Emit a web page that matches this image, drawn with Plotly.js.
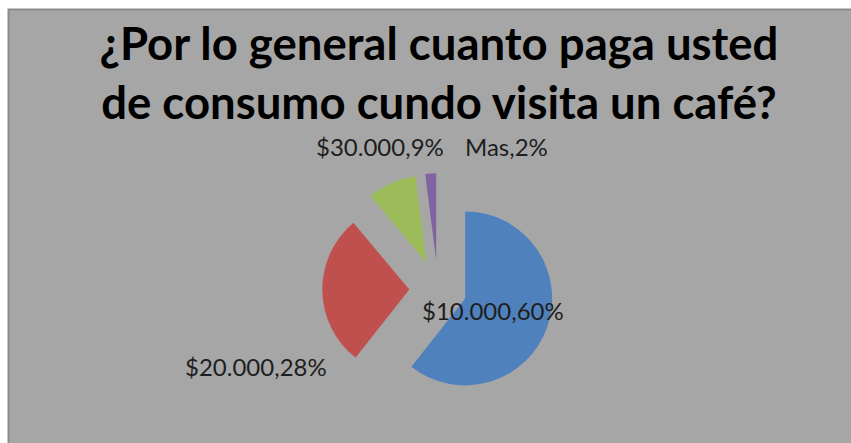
<!DOCTYPE html>
<html>
<head>
<meta charset="utf-8">
<script src="https://cdn.plot.ly/plotly-3.0.1.min.js"></script>
<style>
  html, body { margin: 0; padding: 0; background: #ffffff; }
  #chart { width: 851px; height: 443px; }
</style>
</head>
<body>
<div id="chart"></div>
<script>
// Data
const categories = ["$10.000", "$20.000", "$30.000", "Mas"];
const percents = [60, 28, 9, 2];
const colors = ["#4f81bd", "#c0504d", "#9bbb59", "#8064a2"];
const titleLines = ["¿Por lo general cuanto paga usted", "de consumo cundo visita un café?"];

const W = 851, H = 443;
const px = (x) => x / W;
const py = (y) => 1 - y / H;

// label placement (pixel centres in the figure)
const labelPos = [[493, 310], [256, 366], [380, 147], [506, 147]];

const trace = {
  type: "pie",
  labels: categories,
  values: percents,
  sort: false,
  direction: "clockwise",
  rotation: 0,
  pull: percents.map(() => 0.33),
  marker: { colors: colors, line: { width: 0 } },
  textinfo: "none",
  hovertemplate: "%{label}, %{value}%<extra></extra>",
  showlegend: false,
  domain: { x: [px(322.3), px(553.7)], y: [py(404.7), py(173.3)] }
};

const annotations = categories.map((c, i) => ({
  text: c + "," + percents[i] + "%",
  x: px(labelPos[i][0]),
  y: py(labelPos[i][1]),
  xref: "paper", yref: "paper",
  xanchor: "center", yanchor: "middle",
  showarrow: false,
  font: { family: "Lato, 'Open Sans', sans-serif", size: 24, color: "#1e1e1e" }
}));

const layout = {
  width: W, height: H,
  margin: { l: 0, r: 0, t: 0, b: 0, pad: 0 },
  paper_bgcolor: "#ffffff",
  plot_bgcolor: "rgba(0,0,0,0)",
  showlegend: false,
  title: {
    text: titleLines.join("<br>"),
    font: { family: "Lato, 'Open Sans', sans-serif", size: 45.5, color: "#000000", weight: "bold" },
    x: 439 / W, xanchor: "center", xref: "container",
    y: 1 - 60 / H, yanchor: "top", yref: "container"
  },
  shapes: [{
    type: "rect", xref: "paper", yref: "paper", layer: "below",
    x0: px(8.5), x1: 1.02, y0: -0.02, y1: py(9.5),
    fillcolor: "#a6a6a6",
    line: { color: "#8c8c8c", width: 2 }
  }],
  annotations: annotations
};

Plotly.newPlot("chart", [trace], layout, { displayModeBar: false, staticPlot: true });
</script>
</body>
</html>
